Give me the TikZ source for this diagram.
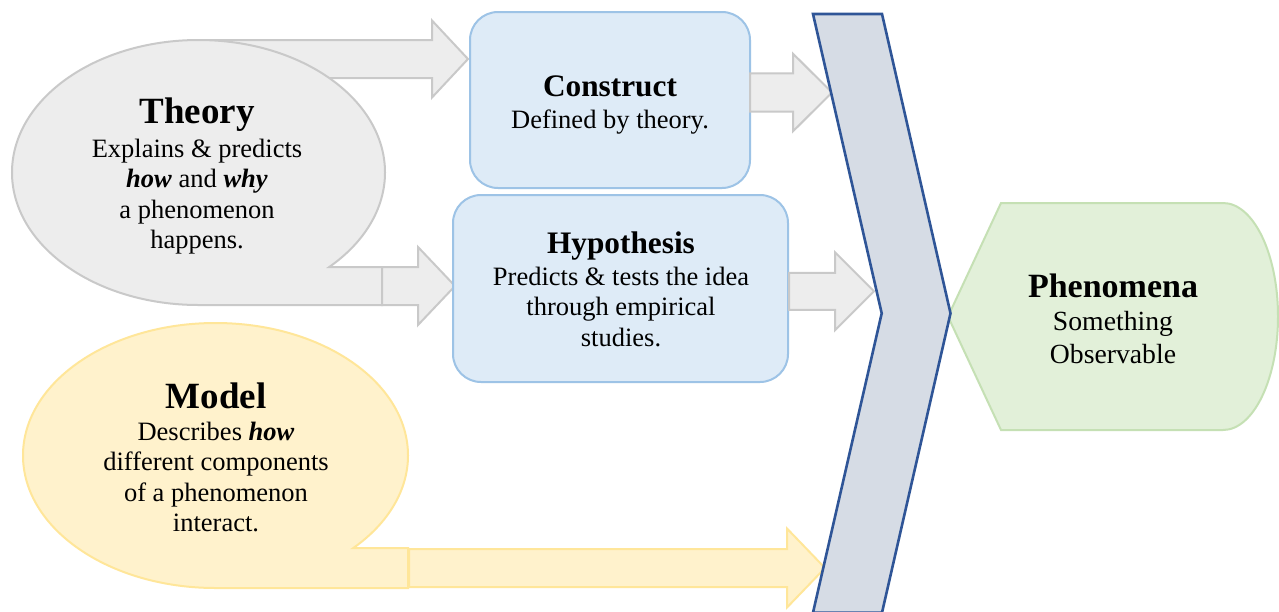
\documentclass[tikz,border=0pt]{standalone}
\usepackage{fontspec}
\setmainfont{Liberation Serif}
\definecolor{grayfill}{HTML}{EDEDED}
\definecolor{graydraw}{HTML}{C9C9C9}
\definecolor{bluefill}{HTML}{DEEBF7}
\definecolor{bluedraw}{HTML}{9DC3E6}
\definecolor{yelfill}{HTML}{FFF2CC}
\definecolor{yeldraw}{HTML}{FFE699}
\definecolor{chevfill}{HTML}{D6DCE5}
\definecolor{chevdraw}{HTML}{2F5597}
\definecolor{grnfill}{HTML}{E2F0D9}
\definecolor{grndraw}{HTML}{C5E0B4}
\newcommand\mybody{\fontsize{26.5}{30.5}\selectfont}
\newcommand\ttlbig{\fontsize{37}{37}\selectfont\bfseries}
\newcommand\ttlmid{\fontsize{31.3}{31.3}\selectfont\bfseries}
\newcommand\ttlphen{\fontsize{34}{34}\selectfont\bfseries}
\newcommand\phenbody{\fontsize{27.7}{30.5}\selectfont}
\newcommand\bi[1]{\textbf{\textit{#1}}}
% block arrow: style, x start, x head, x tip, y centre, half body, half head (image y downwards)
\newcommand\blockarrow[7]{\draw[#1] (#2,{-(#5)+(#6)}) -- (#3,{-(#5)+(#6)}) -- (#3,{-(#5)+(#7)}) -- (#4,{-(#5)}) -- (#3,{-(#5)-(#7)}) -- (#3,{-(#5)-(#6)}) -- (#2,{-(#5)-(#6)}) -- cycle;}
\tikzset{
  grayshape/.style={fill=grayfill, draw=graydraw, line width=2pt, line join=miter},
  yelshape/.style={fill=yelfill, draw=yeldraw, line width=2pt, line join=miter},
  bluebox/.style={fill=bluefill, draw=bluedraw, line width=2pt, rounded corners=28pt, inner sep=0pt},
  chevshape/.style={fill=chevfill, draw=chevdraw, line width=2.6pt, line join=miter},
  grnshape/.style={fill=grnfill, draw=grndraw, line width=2pt, line join=miter},
  txt/.style={anchor=base, inner sep=0pt, font=\mybody}
}
\begin{document}
\begin{tikzpicture}[x=1pt,y=1pt]
\useasboundingbox (0,0) rectangle (1279,-611);
\fill[white] (0,0) rectangle (1279,-611);
% arrow Theory -> Construct (behind the callout)
\blockarrow{grayshape}{200}{432}{468}{59}{19}{38.5}
% Theory callout
\draw[grayshape] (198.5,-305) arc[start angle=270, end angle=-45.5, x radius=186.5pt, y radius=132.5pt] -- (382,-267) -- (382,-305) -- cycle;
% arrow Theory -> Hypothesis
\blockarrow{grayshape}{382}{418}{455}{286}{19}{39}
% Model callout
\draw[yelshape] (215.5,-588) arc[start angle=270, end angle=-44.3, x radius=192.5pt, y radius=132.5pt] -- (408,-548) -- (408,-588) -- cycle;
% arrow Model -> chevron
\blockarrow{yelshape}{409}{787}{825}{568}{19}{39.5}
% boxes
\node[bluebox, minimum width=280pt, minimum height=176pt] (constructbox) at (610,-100) {};
\node[bluebox, minimum width=335pt, minimum height=187pt] (hypbox) at (620.5,-288.5) {};
% arrows to chevron
\blockarrow{grayshape}{750}{793}{832}{92.5}{19.2}{38.8}
\blockarrow{grayshape}{789}{835}{874}{291.3}{18.5}{39}
% Phenomena
\draw[grnshape] (948,-316.5) -- (1001,-203) -- (1223,-203) arc[start angle=90, end angle=-90, x radius=55pt, y radius=113.5pt] -- (1001,-430) -- cycle;
% chevron
\draw[chevshape] (813,-14) -- (882,-14) -- (950.5,-313.3) -- (882,-612.6) -- (813,-612.6) -- (881.7,-313.3) -- cycle;
% texts
\node[txt] (theory) at (197,-123) {\begin{tabular}[t]{@{}c@{}}{\ttlbig Theory}\\[3.5pt]
Explains \& predicts\\ \bi{how} and \bi{why}\\ a phenomenon\\ happens.\end{tabular}};
\node[txt] (construct) at (610,-96.7) {\begin{tabular}[t]{@{}c@{}}{\ttlmid Construct}\\[0.8pt]
Defined by theory.\end{tabular}};
\node[txt] (hypothesis) at (621,-253) {\begin{tabular}[t]{@{}c@{}}{\ttlmid Hypothesis}\\[1.5pt]
Predicts \& tests the idea\\ through empirical\\ studies.\end{tabular}};
\node[txt] (model) at (216,-408) {\begin{tabular}[t]{@{}c@{}}{\ttlbig Model}\\[1.5pt]
Describes \bi{how}\\ different components\\ of a phenomenon\\ interact.\end{tabular}};
\node[txt] (phenomena) at (1113,-297) {\begin{tabular}[t]{@{}c@{}}{\ttlphen Phenomena}\\[3pt]
{\phenbody Something}\\[2pt] {\phenbody Observable}\end{tabular}};
\end{tikzpicture}
\end{document}
